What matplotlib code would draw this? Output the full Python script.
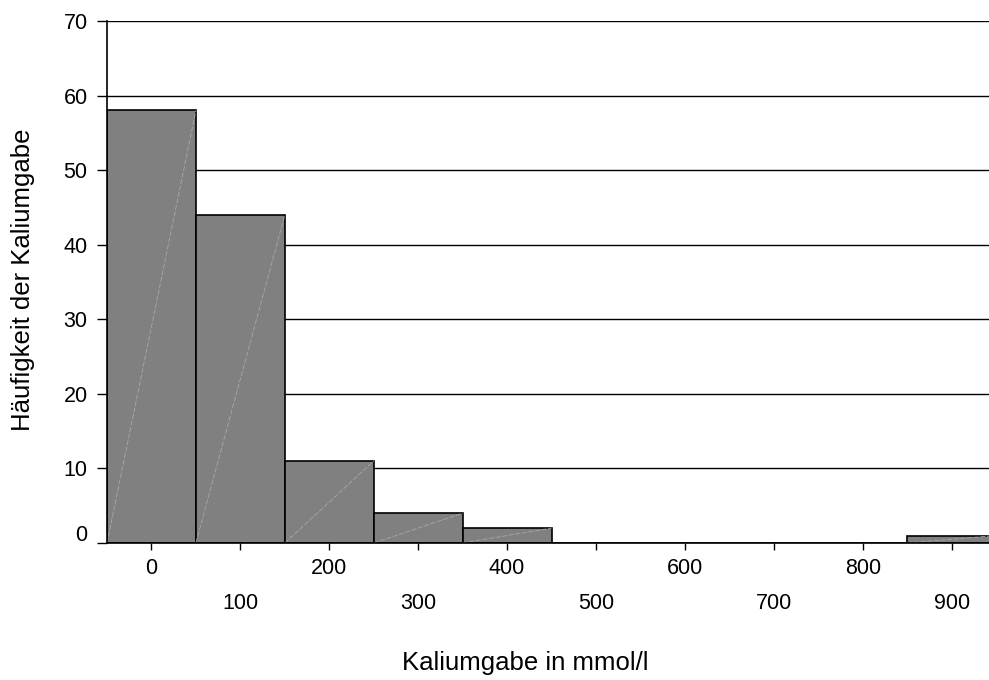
import matplotlib
matplotlib.use("Agg")
import matplotlib.pyplot as plt
import matplotlib.transforms as mtransforms
import numpy as np

plt.rcParams['font.family'] = ['Liberation Sans', 'DejaVu Sans']
plt.rcParams['font.size'] = 15.5

# histogram data (bin centres in mmol/l, counts)
bin_centres = [0, 100, 200, 300, 400, 500, 600, 700, 800, 900]
counts = [58, 44, 11, 4, 2, 0, 0, 0, 0, 1]
bin_width = 100
even_ticks = [0, 200, 400, 600, 800]
odd_ticks = [100, 300, 500, 700, 900]
y_ticks = [0, 10, 20, 30, 40, 50, 60, 70]

fig = plt.figure(figsize=(9.89, 6.8), dpi=100)
ax = fig.add_axes([107/989, 137/680, 882/989, 522/680])

# horizontal grid behind the bars
for yv in y_ticks[1:]:
    ax.axhline(yv, color='black', lw=1, zorder=0)

bars = ax.bar(bin_centres, counts, width=bin_width, color='#808080',
              edgecolor='black', linewidth=1.2, zorder=2)
# faint diagonals seen inside the bars
for b in bars:
    if b.get_height() > 0:
        x0 = b.get_x()
        ax.plot([x0, x0 + b.get_width()], [0, b.get_height()],
                color='#a8a8a8', lw=0.6, ls=(0, (6, 2)), zorder=3)

ax.set_xlim(-50, 942)
ax.set_ylim(0, 70)

for s in ['top', 'right']:
    ax.spines[s].set_visible(False)
ax.spines['left'].set_linewidth(1.2)
ax.spines['bottom'].set_linewidth(1.2)
ax.spines['left'].set_zorder(4)
ax.spines['bottom'].set_zorder(4)

ax.set_yticks(y_ticks)
ax.tick_params(axis='y', length=7, width=1, pad=7)
# lift the "0" label a little
lbl0 = ax.get_yticklabels()[0]
lbl0.set_transform(lbl0.get_transform() +
                   mtransforms.ScaledTranslation(0, 10/100, fig.dpi_scale_trans))

ax.set_xticks(even_ticks)
ax.set_xticklabels([str(v) for v in even_ticks])
ax.set_xticks(odd_ticks, minor=True)
ax.set_xticklabels([str(v) for v in odd_ticks], minor=True)
ax.tick_params(axis='x', which='major', length=5, width=1, pad=6)
ax.tick_params(axis='x', which='minor', length=5, width=1, pad=31, labelsize=15.5)

ax.set_xlabel('Kaliumgabe in mmol/l', fontsize=18.5, va='center')
ax.xaxis.set_label_coords(0.474, -0.23)
ax.set_ylabel('Häufigkeit der Kaliumgabe', fontsize=18.5, va='center')
ax.yaxis.set_label_coords(-0.0952, 0.504)

fig.savefig('out.png', dpi=100)
